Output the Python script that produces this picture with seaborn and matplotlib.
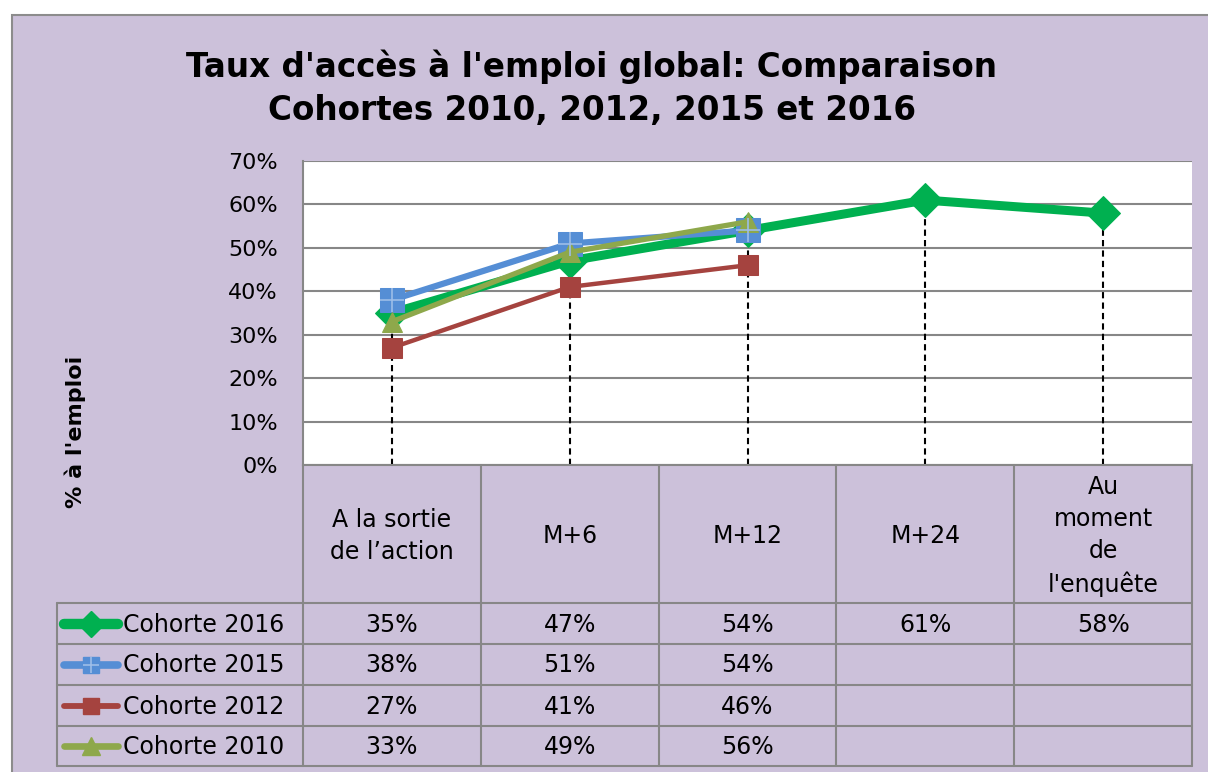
import numpy as np
import pandas as pd
import matplotlib
matplotlib.use("Agg")
import matplotlib.pyplot as plt
import seaborn as sns
from matplotlib.patches import Rectangle

# data
categories = ["A la sortie\nde l’action", "M+6", "M+12", "M+24", "Au\nmoment\nde\nl'enquête"]
cohortes = ["Cohorte 2016", "Cohorte 2015", "Cohorte 2012", "Cohorte 2010"]
cohorte_2016 = [35, 47, 54, 61, 58]
cohorte_2015 = [38, 51, 54, np.nan, np.nan]
cohorte_2012 = [27, 41, 46, np.nan, np.nan]
cohorte_2010 = [33, 49, 56, np.nan, np.nan]
y_ticks = [0, 10, 20, 30, 40, 50, 60, 70]

series = [cohorte_2016, cohorte_2015, cohorte_2012, cohorte_2010]

# styles
PURPLE = "#CCC1DA"
GRID = "#878787"
styles = {
    "Cohorte 2016": dict(color="#00B050", marker="D", ms=17.5, lw=6.5, key_ms=13),
    "Cohorte 2015": dict(color="#558ED5", marker="s", ms=17, lw=4.5, key_ms=12),
    "Cohorte 2012": dict(color="#A5433F", marker="s", ms=14, lw=3.2, key_ms=12),
    "Cohorte 2010": dict(color="#8EA84B", marker="^", ms=15, lw=3.8, key_ms=13),
}

W, H = 1208, 772
sns.set_theme(style="white")
plt.rcParams["font.family"] = ["DejaVu Sans"]
plt.rcParams["text.color"] = "black"
plt.rcParams["ytick.color"] = "black"

fig = plt.figure(figsize=(W / 100, H / 100), dpi=100)
fig.patch.set_facecolor("white")
fig.patches.append(Rectangle((12 / W, -0.1), 1.2, (H - 15) / H + 0.1,
                             transform=fig.transFigure, facecolor=PURPLE,
                             edgecolor="#8C8C8C", lw=1.5, zorder=-5))

# plot area
x0, x1, ytop, ybot = 303, 1192, 161, 465
ax = fig.add_axes([x0 / W, 1 - ybot / H, (x1 - x0) / W, (ybot - ytop) / H])
ax.set_facecolor("white")

df = pd.DataFrame({name: vals for name, vals in zip(cohortes, series)})
df["pos"] = range(len(categories))
long = df.melt(id_vars="pos", var_name="cohorte", value_name="taux").dropna()

# drop lines from highest point of each category
tops = df[cohortes].max(axis=1)
ax.vlines(df["pos"], 0, tops, colors="black", linestyles=(0, (3, 2)), lw=1.5, zorder=2)

for name in ["Cohorte 2016", "Cohorte 2015", "Cohorte 2012", "Cohorte 2010"]:
    st = styles[name]
    sub = long[long["cohorte"] == name]
    sns.lineplot(data=sub, x="pos", y="taux", ax=ax, color=st["color"],
                 marker=st["marker"], markersize=st["ms"], linewidth=st["lw"],
                 markeredgecolor=st["color"], zorder=3, legend=False)
    if name == "Cohorte 2015":
        ax.plot(sub["pos"], sub["taux"], ls="none", marker="+", ms=17,
                mew=1.2, color="#9DBDE8", zorder=4)

ax.set_xlim(-0.5, len(categories) - 0.5)
ax.set_ylim(0, 70)
ax.set_yticks(y_ticks)
ax.set_yticklabels([f"{v}%" for v in y_ticks], fontsize=16)
ax.set_xticks([])
ax.set_xlabel("")
ax.set_ylabel("")
ax.tick_params(axis="y", length=0, pad=18)
ax.yaxis.grid(True, color=GRID, lw=1.5)
ax.set_axisbelow(True)
for s in ["top", "right"]:
    ax.spines[s].set_visible(False)
for s in ["left", "bottom"]:
    ax.spines[s].set_color(GRID)
    ax.spines[s].set_linewidth(1.5)

fig.text(75 / W, 1 - 432 / H, "% à l'emploi", rotation=90, ha="center",
         va="center", fontsize=16, fontweight="bold")
fig.text(592 / W, 1 - 88 / H, "Taux d'accès à l'emploi global: Comparaison\nCohortes 2010, 2012, 2015 et 2016",
         ha="center", va="center", fontsize=23.5, fontweight="bold", linespacing=1.38)

# data table
tab = fig.add_axes([0, 0, 1, 1])
tab.set_xlim(0, W)
tab.set_ylim(H, 0)
tab.axis("off")
tab.patch.set_alpha(0)

col_edges = np.linspace(x0, x1, len(categories) + 1)
centers = (col_edges[:-1] + col_edges[1:]) / 2
row_edges = [603, 644, 685, 726, 766]
lx = 57
tcol = GRID

for xe in col_edges:
    tab.plot([xe, xe], [ybot, row_edges[-1]], color=tcol, lw=1.5)
tab.plot([lx, lx], [row_edges[0], row_edges[-1]], color=tcol, lw=1.5)
for ye in row_edges:
    tab.plot([lx, x1], [ye, ye], color=tcol, lw=1.5)

for c, lab in zip(centers, categories):
    tab.text(c, (ybot + row_edges[0]) / 2 + 2, lab, ha="center", va="center",
             fontsize=17, linespacing=1.42)

for r, (name, vals) in enumerate(zip(cohortes, series)):
    yc = (row_edges[r] + row_edges[r + 1]) / 2
    st = styles[name]
    tab.plot([64, 118], [yc, yc], color=st["color"], lw=st["lw"] + 1,
             solid_capstyle="round")
    tab.plot([91], [yc], marker=st["marker"], ms=st["key_ms"],
             color=st["color"], ls="none")
    if name == "Cohorte 2015":
        tab.plot([91], [yc], marker="+", ms=12, mew=1.2, color="#9DBDE8", ls="none")
    tab.text(123, yc + 1, name, ha="left", va="center", fontsize=17)
    for c, v in zip(centers, vals):
        if not np.isnan(v):
            tab.text(c, yc + 1, f"{v:.0f}%", ha="center", va="center", fontsize=17)

fig.savefig("out.png", dpi=100, facecolor=fig.get_facecolor())
